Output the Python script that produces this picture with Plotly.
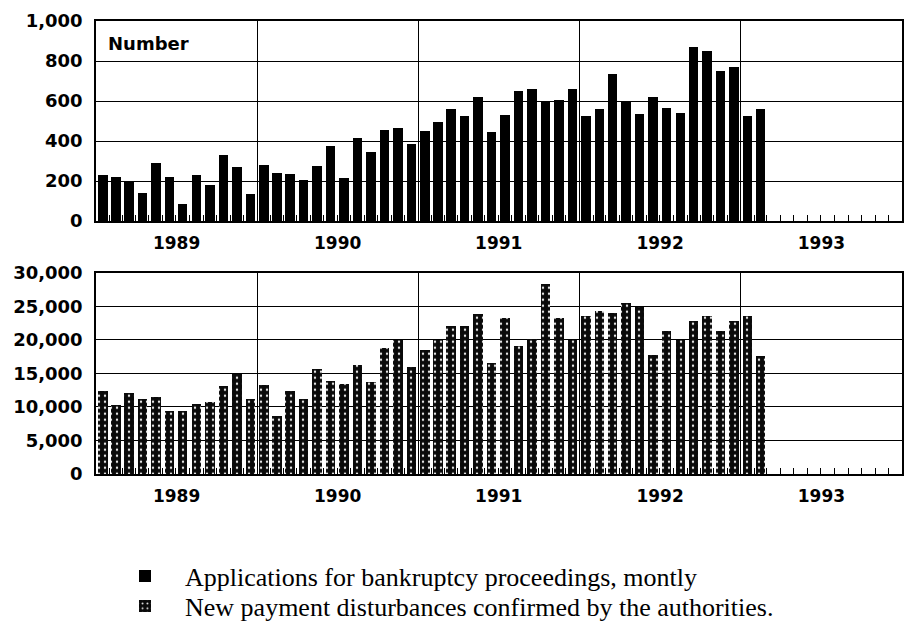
import pandas as pd
import plotly.graph_objects as go
from plotly.subplots import make_subplots

# ---- data ----
start_month = "1989-01-01"
n_months = 50
months = pd.date_range(start_month, periods=n_months, freq="MS").strftime("%Y-%m-%d").tolist()

bankruptcy_applications = [
    230, 220, 197, 142, 288, 220, 87, 230, 182, 328, 270, 133,      # 1989
    282, 242, 235, 205, 275, 375, 217, 417, 347, 455, 465, 385,      # 1990
    452, 495, 558, 525, 618, 447, 530, 652, 662, 602, 605, 658,      # 1991
    525, 560, 733, 602, 535, 622, 565, 538, 870, 852, 750, 772,      # 1992
    525, 558,                                                        # 1993
]
payment_disturbances = [
    12360, 10380, 12065, 11170, 11520, 9380, 9380, 10425, 10775, 13110, 14995, 11220,   # 1989
    13300, 8640, 12360, 11170, 15690, 13900, 13455, 16335, 13750, 18870, 20010, 16040,  # 1990
    18570, 19960, 22140, 22045, 23830, 16580, 23235, 19115, 20160, 28400, 23235, 20060, # 1991
    23580, 24380, 23980, 25520, 24925, 17825, 21400, 20010, 22790, 23630, 21300, 22890, # 1992
    23580, 17675,                                                                       # 1993
]
x_range = ["1989-01-01", "1994-01-01"]
top_ticks = [0, 200, 400, 600, 800, 1000]
bottom_ticks = [0, 5000, 10000, 15000, 20000, 25000, 30000]
legend_names = [
    "Applications for bankruptcy proceedings, montly",
    "New payment disturbances confirmed by the authorities.",
]
panel_label = "Number"

# ---- figure ----
fig = make_subplots(rows=2, cols=1, vertical_spacing=0.11)

bar_width_ms = 0.7 * 30.4 * 86400000

fig.add_trace(go.Bar(
    x=months, y=bankruptcy_applications, name=legend_names[0],
    xperiod="M1", xperiodalignment="middle", width=bar_width_ms,
    marker=dict(color="black", line=dict(width=0)),
    legend="legend",
), row=1, col=1)

fig.add_trace(go.Bar(
    x=months, y=payment_disturbances, name=legend_names[1],
    xperiod="M1", xperiodalignment="middle", width=bar_width_ms,
    marker=dict(color="#0a0a0a", line=dict(width=0),
                pattern=dict(shape=".", fgcolor="#e8e8e8", bgcolor="#0a0a0a",
                             size=6, solidity=0.12, fillmode="replace")),
    legend="legend2",
), row=2, col=1)

tick_font = dict(family="DejaVu Sans", size=18, color="black", weight="bold")
year_font = dict(family="DejaVu Sans", size=17, color="black", weight="bold")

xaxis_common = dict(
    type="date", range=x_range, tick0="1989-01-01", dtick="M12",
    tickformat="%Y", ticklabelmode="period",
    showgrid=True, gridcolor="black", gridwidth=1.3,
    showline=True, linecolor="black", linewidth=1.6, mirror=True,
    ticks="", tickfont=year_font, ticklabelstandoff=6,
    minor=dict(dtick="M1", ticks="inside", ticklen=6, tickcolor="black",
               tickwidth=1, showgrid=False),
    zeroline=False,
)
fig.update_xaxes(**xaxis_common)

fig.update_yaxes(
    showgrid=True, gridcolor="black", gridwidth=1.3,
    showline=True, linecolor="black", linewidth=1.6, mirror=True,
    ticks="", tickfont=tick_font, tickformat=",", ticklabelstandoff=8,
    zeroline=False,
)
fig.update_yaxes(range=[0, 1000], tickvals=top_ticks, row=1, col=1)
fig.update_yaxes(range=[0, 30000], tickvals=bottom_ticks, row=2, col=1)

H = 625 - 21 - 151
fig.update_layout(
    yaxis=dict(domain=[(474 - 221) / H, 1]),
    yaxis2=dict(domain=[0, (474 - 272.7) / H]),
)

fig.add_annotation(
    text=panel_label, xref="x domain", yref="y domain", x=0.012, y=0.89,
    xanchor="left", yanchor="middle", showarrow=False,
    font=dict(family="DejaVu Sans", size=18, color="black", weight="bold"),
)

legend_font = dict(family="Liberation Serif", size=26, color="black")
legend_common = dict(
    xref="container", yref="container", xanchor="left", yanchor="middle",
    font=legend_font, bgcolor="rgba(0,0,0,0)", itemwidth=70,
    borderwidth=0,
)
fig.update_layout(
    width=912, height=625,
    margin=dict(l=96, r=10, t=21, b=151, autoexpand=False),
    paper_bgcolor="white", plot_bgcolor="white",
    bargap=0,
    showlegend=True,
    legend=dict(x=105 / 912, y=1 - 576 / 625, **legend_common),
    legend2=dict(x=105 / 912, y=1 - 606 / 625, **legend_common),
)

fig.write_html("out.html", config={"displayModeBar": False},
               post_script="document.body.style.margin='0';")
